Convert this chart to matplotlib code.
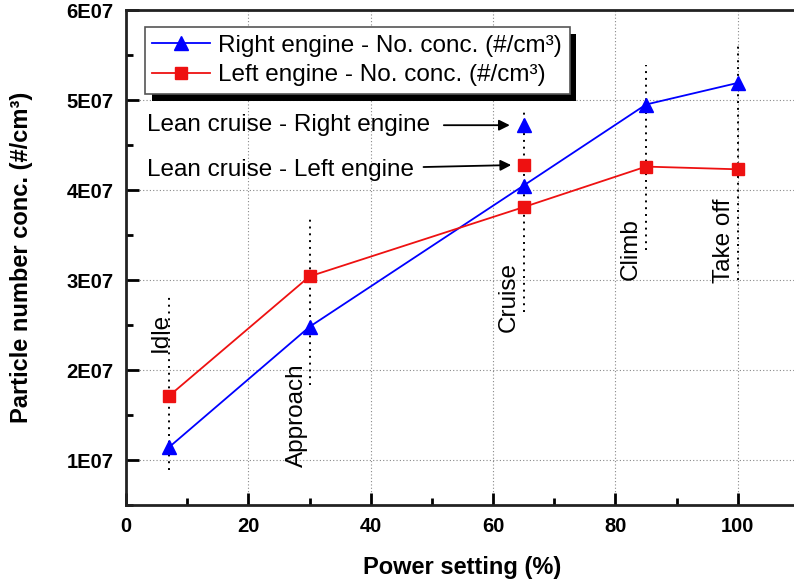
import numpy as np
import matplotlib
matplotlib.use("Agg")
import matplotlib.pyplot as plt
from matplotlib.patches import Rectangle
from matplotlib.ticker import MultipleLocator, FuncFormatter

plt.rcParams['font.family'] = ['Liberation Sans', 'DejaVu Sans']

# power settings for the LTO cycle stages
stages = ["Idle", "Approach", "Cruise", "Climb", "Take off"]
power = [7, 30, 65, 85, 100]

# particle number concentration (#/cm3)
right_conc = [1.14e7, 2.48e7, 4.05e7, 4.95e7, 5.19e7]
left_conc = [1.71e7, 3.04e7, 3.81e7, 4.26e7, 4.23e7]

# lean cruise points (65 %)
lean_power = 65
lean_right = 4.72e7
lean_left = 4.28e7

# vertical marker lines per stage (bottom, top) and label centre positions
stage_lines = [(0.89e7, 2.81e7), (1.83e7, 3.70e7), (2.64e7, 4.87e7),
               (3.33e7, 5.39e7), (3.00e7, 5.62e7)]
label_x = [5.7, 28.0, 62.6, 82.5, 97.7]
label_y = [2.42e7, 1.50e7, 2.81e7, 3.34e7, 3.44e7]

fig = plt.figure(figsize=(7.94, 5.79), dpi=100)
ax = fig.add_axes([126 / 794, 74 / 579, 673 / 794, 495 / 579])

ax.set_xlim(0, 110)
ax.set_ylim(0.5e7, 6e7)

ax.grid(True, which='major', color='#888888', linestyle=(0, (1, 2)), linewidth=0.8)

for x, (lo, hi) in zip(power, stage_lines):
    ax.plot([x, x], [lo, hi], color='black', linestyle=(0, (1, 2.5)), linewidth=1.4, zorder=2)

for name, x, y in zip(stages, label_x, label_y):
    ax.text(x, y, name, rotation=90, ha='center', va='center', fontsize=17.5, zorder=3)

ax.plot(power, right_conc, color='#0000ff', marker='^', markersize=10.5, linewidth=1.3,
        label='Right engine - No. conc. (#/cm³)', zorder=4)
ax.plot(power, left_conc, color='#ee1111', marker='s', markersize=8, linewidth=1.3,
        label='Left engine - No. conc. (#/cm³)', zorder=4)
ax.plot([lean_power], [lean_right], color='#0000ff', marker='^', markersize=10.5, linestyle='none', zorder=4)
ax.plot([lean_power], [lean_left], color='#ee1111', marker='s', markersize=8, linestyle='none', zorder=4)

ax.annotate('Lean cruise - Right engine', xy=(lean_power, lean_right), xytext=(3.4, lean_right),
            ha='left', va='center', fontsize=17.5,
            arrowprops=dict(arrowstyle='-|>', color='black', lw=1.3, shrinkA=8, shrinkB=10,
                            mutation_scale=16))
ax.annotate('Lean cruise - Left engine', xy=(lean_power, lean_left), xytext=(3.4, 4.22e7),
            ha='left', va='center', fontsize=17.5,
            arrowprops=dict(arrowstyle='-|>', color='black', lw=1.3, shrinkA=5, shrinkB=9,
                            mutation_scale=16))

ax.xaxis.set_major_locator(MultipleLocator(20))
ax.xaxis.set_minor_locator(MultipleLocator(10))
ax.yaxis.set_major_locator(MultipleLocator(1e7))
ax.yaxis.set_minor_locator(MultipleLocator(0.5e7))
ax.yaxis.set_major_formatter(FuncFormatter(lambda v, p: f"{int(round(v / 1e7))}E07"))

ax.tick_params(which='major', direction='in', length=9, width=2, labelsize=14.5, pad=9)
ax.tick_params(which='minor', direction='in', length=5, width=2)
for lab in ax.get_xticklabels() + ax.get_yticklabels():
    lab.set_fontweight('bold')
for s in ax.spines.values():
    s.set_linewidth(2)
    s.set_color('#222222')

ax.set_xlabel('Power setting (%)', fontsize=17, fontweight='bold', labelpad=14)
ax.set_ylabel('Particle number conc. (#/cm³)', fontsize=17, fontweight='bold', labelpad=24)

leg = ax.legend(loc='upper left', bbox_to_anchor=(0.028, 0.965), fontsize=17.5, fancybox=False,
                edgecolor='#555555', framealpha=1, borderpad=0.3, handlelength=2.4,
                handletextpad=0.33, labelspacing=0.32, borderaxespad=0)
leg.get_frame().set_linewidth(1.2)

# solid black drop shadow behind the legend box
fig.canvas.draw()
bb = leg.get_window_extent()
inv = ax.transAxes.inverted()
(x0, y0), (x1, y1) = inv.transform([(bb.x0 + 7, bb.y0 - 7), (bb.x1 + 6, bb.y1 - 7)])
ax.add_patch(Rectangle((x0, y0), x1 - x0, y1 - y0, transform=ax.transAxes,
                       facecolor='black', edgecolor='none', clip_on=False, zorder=4.5))

fig.savefig('out.png', dpi=100)
